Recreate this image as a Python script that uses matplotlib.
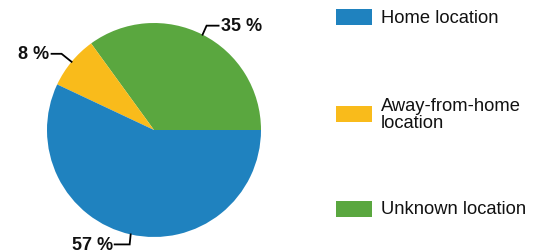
import numpy as np
import matplotlib
matplotlib.use("Agg")
import matplotlib.pyplot as plt
from matplotlib.patches import Rectangle

plt.rcParams['font.family'] = ['Liberation Sans', 'DejaVu Sans']

# data
labels = ["Home location", "Away-from-home\nlocation", "Unknown location"]
shares = [57, 8, 35]
colors = ["#1f82bf", "#f9bb1b", "#5aa73f"]

W, H = 540, 253
fig = plt.figure(figsize=(W / 100, H / 100), dpi=100)
ax = fig.add_axes([0, 0, 1, 1])
ax.set_xlim(0, W)
ax.set_ylim(0, H)
ax.set_aspect('equal')
ax.axis('off')

cx, cy, r = 154, 253 - 131, 107

# plot in reverse order: unknown starts at 3 o'clock going counterclockwise
order = [2, 1, 0]
wedges, _ = ax.pie([shares[i] for i in order], colors=[colors[i] for i in order],
                   startangle=0, counterclock=True, center=(cx, cy), radius=r,
                   wedgeprops=dict(linewidth=0))
ax.set_xlim(0, W)
ax.set_ylim(0, H)

# percentage labels with elbow leaders
for w, i in zip(wedges, order):
    mid = np.deg2rad((w.theta1 + w.theta2) / 2)
    x0 = cx + r * np.cos(mid)
    y0 = cy + r * np.sin(mid)
    if np.cos(mid) >= 0 and np.sin(mid) > 0:   # top right
        x1, y1 = x0 + 4, y0 + 9
        x2 = x1 + 12
        ha = 'left'
    elif np.sin(mid) > 0:                      # top left
        x1, y1 = x0 - 10, y0 + 8
        x2 = x1 - 10
        ha = 'right'
    else:                                      # bottom
        x1, y1 = x0 - 1, y0 - 10
        x2 = x1 - 15
        ha = 'right'
    ax.plot([x0, x1, x2], [y0, y1, y1], color='black', lw=1.3,
            solid_joinstyle='miter')
    tx = x2 + (2 if ha == 'left' else -2)
    ax.text(tx, y1, f"{shares[i]} %", ha=ha, va='center', fontsize=13,
            fontweight='bold', color='#111111')

# manual legend
leg_y = [253 - 18, 253 - 115, 253 - 210]
for lab, col, y in zip(labels, colors, leg_y):
    ax.add_patch(Rectangle((336, y - 8), 36, 16, facecolor=col, linewidth=0))
    ax.text(381, y, lab, ha='left', va='center', fontsize=13.2,
            linespacing=1.0, color='#111111')

fig.savefig("out.png", dpi=100)
